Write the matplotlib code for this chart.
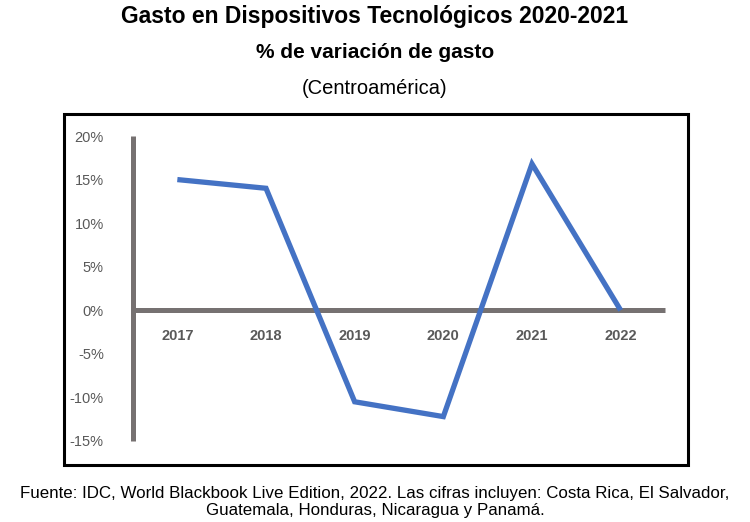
import matplotlib
matplotlib.use("Agg")
import matplotlib.pyplot as plt
from matplotlib.patches import Rectangle

years = ["2017", "2018", "2019", "2020", "2021", "2022"]
variation = [15.0, 14.0, -10.5, -12.2, 16.8, 0.0]
yticks = [-15, -10, -5, 0, 5, 10, 15, 20]

title = "Gasto en Dispositivos Tecnológicos 2020-2021"
subtitle = "% de variación de gasto"
region = "(Centroamérica)"
source = ("Fuente: IDC, World Blackbook Live Edition, 2022. Las cifras incluyen: Costa Rica, El Salvador,\n"
          "Guatemala, Honduras, Nicaragua y Panamá.")

W, H = 750, 522
plt.rcParams['font.family'] = ['Liberation Sans', 'DejaVu Sans']
fig = plt.figure(figsize=(W / 100, H / 100), dpi=100)

def fx(px):
    return px / W

def fy(py):
    return 1 - py / H

# frame
fig.patches.append(Rectangle((fx(64), fy(465)), fx(688) - fx(64), fy(114) - fy(465),
                             transform=fig.transFigure, fill=False, edgecolor="black",
                             linewidth=2.2, zorder=0))

ax = fig.add_axes([fx(133), fy(441), fx(665) - fx(133), fy(136) - fy(441)])
x = list(range(len(years)))
ax.axhline(0, color="#767171", linewidth=3.6, zorder=1, clip_on=False, solid_capstyle="butt")
ax.axvline(-0.5, ymin=0, ymax=1, color="#767171", linewidth=3.6, zorder=1, clip_on=False,
           solid_capstyle="butt")
ax.plot(x, variation, color="#4472C4", linewidth=3.8, solid_joinstyle="miter",
        solid_capstyle="butt", zorder=3, clip_on=False)
ax.set_xlim(-0.5, 5.5)
ax.set_ylim(-15, 20)
for s in ax.spines.values():
    s.set_visible(False)
ax.set_xticks([])
ax.set_yticks(yticks)
ax.set_yticklabels([f"{v}%" for v in yticks], fontsize=10.5, color="#595959")
ax.tick_params(axis="y", length=0, pad=21)
ax.patch.set_alpha(0)
for i, yr in enumerate(years):
    ax.text(i, -2.9, yr, ha="center", va="center", fontsize=10.5, fontweight="bold",
            color="#595959")

fig.text(0.5, fy(16), title, ha="center", va="center", fontsize=16.5, fontweight="bold")
fig.text(0.5, fy(52), subtitle, ha="center", va="center", fontsize=15, fontweight="bold")
fig.text(0.5, fy(89), region, ha="center", va="center", fontsize=14.5)
fig.text(0.5, fy(502), source, ha="center", va="center", fontsize=12.2,
         family=['Liberation Sans Narrow', 'Liberation Sans', 'DejaVu Sans'], linespacing=1.2)

fig.savefig("out.png", dpi=100)
